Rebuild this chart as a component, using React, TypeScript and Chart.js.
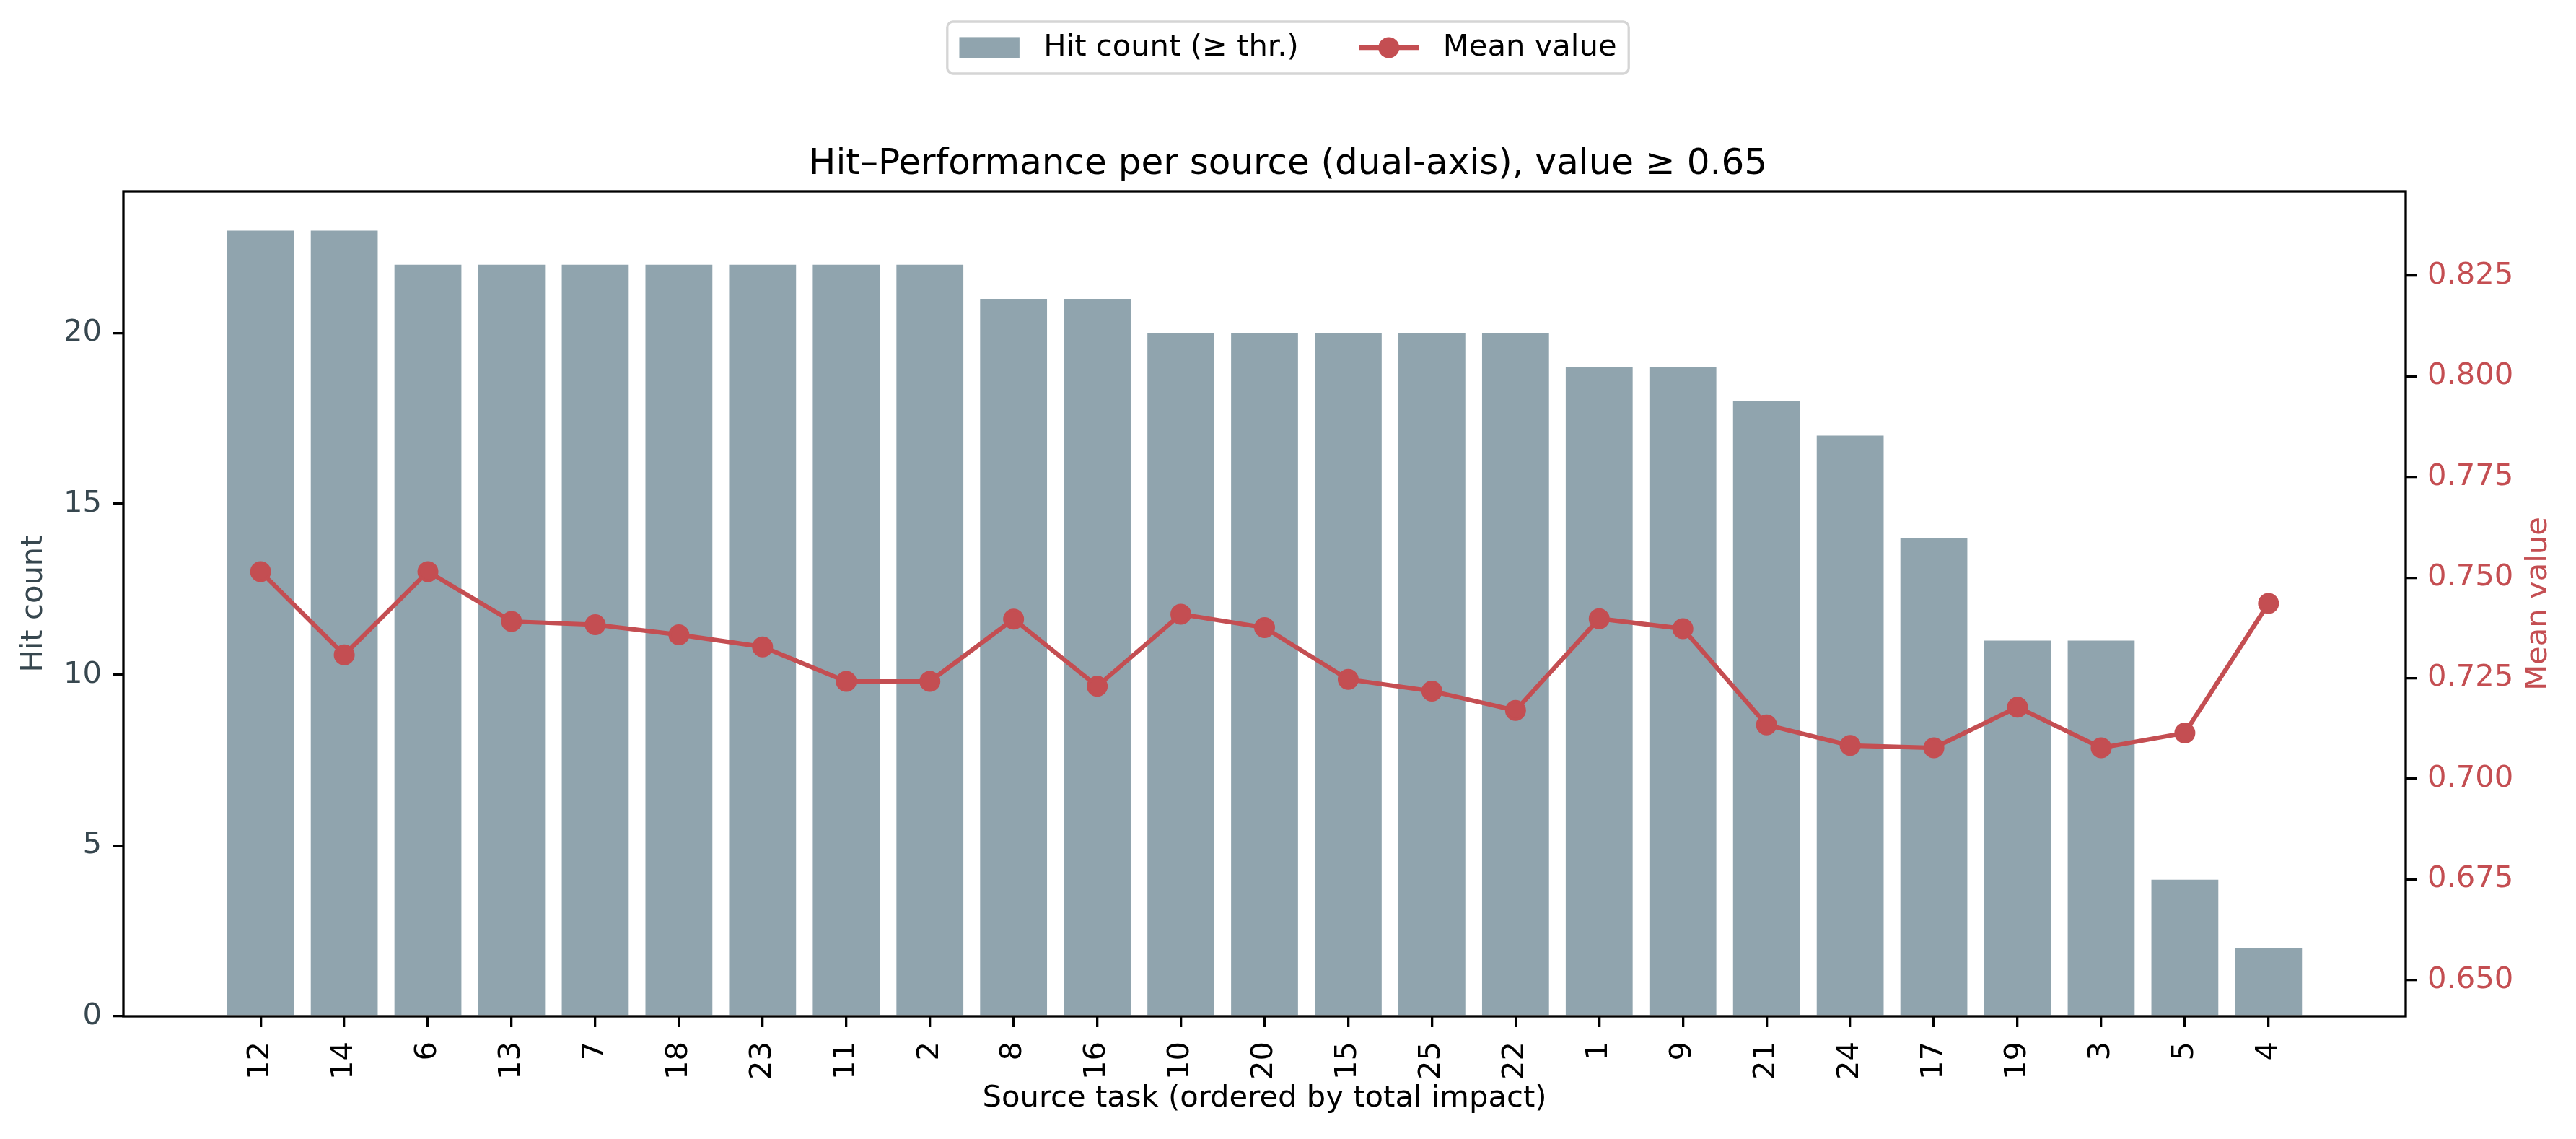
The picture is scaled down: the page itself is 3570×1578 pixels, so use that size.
import { useEffect, useRef } from 'react';
import { Chart, registerables } from 'chart.js';

Chart.register(...registerables);

const categories = ['12', '14', '6', '13', '7', '18', '23', '11', '2', '8', '16', '10', '20', '15', '25', '22', '1', '9', '21', '24', '17', '19', '3', '5', '4'];
const hitCounts = [23, 23, 22, 22, 22, 22, 22, 22, 22, 21, 21, 20, 20, 20, 20, 20, 19, 19, 18, 17, 14, 11, 11, 4, 2];
const meanValues = [0.7515, 0.7308, 0.7515, 0.7391, 0.7383, 0.7358, 0.7328, 0.7242, 0.7242, 0.7397, 0.7230, 0.7409, 0.7376, 0.7247, 0.7218, 0.7170, 0.7398, 0.7373, 0.7134, 0.7083, 0.7077, 0.7178, 0.7077, 0.7114, 0.7436];
const hitTicks = [0, 5, 10, 15, 20];
const meanTicks = [0.65, 0.675, 0.7, 0.725, 0.75, 0.775, 0.8, 0.825];

const TITLE = 'Hit\u2013Performance per source (dual-axis), value \u2265 0.65';
const BAR_LABEL = 'Hit count (\u2265 thr.)';
const LINE_LABEL = 'Mean value';

export default function App() {
  const ref = useRef<HTMLCanvasElement>(null);

  useEffect(() => {
    document.body.style.margin = '0';
    document.body.style.overflow = 'hidden';
    const canvas = ref.current;
    if (!canvas) return;

    const FAMILY = "'DejaVu Sans', sans-serif";
    const FS = 41.7;
    const BAR = '#90A4AE';
    const RED = '#C44E52';
    const SLATE = '#37474F';
    const LW = 3.3;

    const decor = {
      id: 'decor',
      afterDatasetsDraw(chart: any) {
        const { ctx, chartArea: a } = chart;
        ctx.save();
        ctx.strokeStyle = '#000';
        ctx.lineWidth = LW;
        ctx.strokeRect(a.left, a.top, a.right - a.left, a.bottom - a.top);
        ctx.restore();
      },
      afterDraw(chart: any) {
        const { ctx, chartArea: a } = chart;
        ctx.save();
        // right axis title (reads bottom-to-top like matplotlib)
        ctx.font = `${FS}px ${FAMILY}`;
        ctx.fillStyle = RED;
        ctx.textAlign = 'center';
        ctx.textBaseline = 'middle';
        ctx.translate(3518, (a.top + a.bottom) / 2);
        ctx.rotate(-Math.PI / 2);
        ctx.fillText(LINE_LABEL, 0, 0);
        ctx.restore();

        // legend
        ctx.save();
        ctx.font = `${FS}px ${FAMILY}`;
        const w1 = ctx.measureText(BAR_LABEL).width;
        const w2 = ctx.measureText(LINE_LABEL).width;
        const handle = 2 * FS;
        const hpad = 0.8 * FS;
        const colsp = 2 * FS;
        const bpad = 0.4 * FS;
        const total = bpad * 2 + handle + hpad + w1 + colsp + handle + hpad + w2;
        const x0 = chart.width / 2 - total / 2;
        const top = 30;
        const h = 72;
        const cy = top + h / 2;
        ctx.beginPath();
        (ctx as any).roundRect(x0, top, total, h, 8);
        ctx.fillStyle = 'rgba(255,255,255,0.8)';
        ctx.fill();
        ctx.strokeStyle = '#d5d5d5';
        ctx.lineWidth = LW;
        ctx.stroke();

        let x = x0 + bpad;
        ctx.fillStyle = BAR;
        ctx.fillRect(x, cy - 0.35 * FS, handle, 0.7 * FS);
        x += handle + hpad;
        ctx.fillStyle = '#000';
        ctx.textAlign = 'left';
        ctx.textBaseline = 'middle';
        ctx.fillText(BAR_LABEL, x, cy);
        x += w1 + colsp;
        ctx.strokeStyle = RED;
        ctx.lineWidth = 6.25;
        ctx.beginPath();
        ctx.moveTo(x, cy);
        ctx.lineTo(x + handle, cy);
        ctx.stroke();
        ctx.beginPath();
        ctx.arc(x + handle / 2, cy, 14.5, 0, Math.PI * 2);
        ctx.fillStyle = RED;
        ctx.fill();
        x += handle + hpad;
        ctx.fillStyle = '#000';
        ctx.fillText(LINE_LABEL, x, cy);
        ctx.restore();
      },
    };

    const font = { family: FAMILY, size: FS };

    const chart = new Chart(canvas, {
      type: 'bar',
      data: {
        datasets: [
          {
            type: 'line',
            label: LINE_LABEL,
            data: meanValues.map((v, i) => ({ x: i, y: v })),
            yAxisID: 'y1',
            xAxisID: 'x',
            borderColor: RED,
            backgroundColor: RED,
            borderWidth: 6.25,
            pointRadius: 12.5,
            pointBorderWidth: 4,
            pointBackgroundColor: RED,
            pointBorderColor: RED,
            tension: 0,
            order: 0,
          } as any,
          {
            type: 'bar',
            label: BAR_LABEL,
            data: hitCounts.map((v, i) => ({ x: i, y: v })),
            yAxisID: 'y',
            xAxisID: 'x',
            backgroundColor: BAR,
            borderWidth: 0,
            barPercentage: 0.8,
            categoryPercentage: 1.0,
            order: 1,
          } as any,
        ],
      },
      options: {
        responsive: false,
        animation: false,
        devicePixelRatio: 1,
        layout: { padding: 0 },
        plugins: {
          legend: { display: false },
          tooltip: { enabled: false },
          title: {
            display: true,
            text: TITLE,
            color: '#000',
            font: { family: FAMILY, size: 50, weight: 'normal' },
            padding: { top: 198, bottom: 7 },
          },
        },
        scales: {
          x: {
            type: 'linear',
            min: -1.64,
            max: 25.64,
            offset: false,
            grid: {
              display: true,
              drawOnChartArea: false,
              drawTicks: true,
              tickLength: 15,
              color: '#000',
              lineWidth: LW,
              offset: false,
            },
            border: { display: false },
            ticks: {
              autoSkip: false,
              minRotation: 90,
              maxRotation: 90,
              padding: 20,
              color: '#000',
              font,
              callback: (v: any) => categories[Number(v)] ?? '',
            },
            afterBuildTicks: (s: any) => {
              s.ticks = categories.map((_, i) => ({ value: i }));
            },
            afterFit: (s: any) => {
              s.height = 170;
            },
            title: {
              display: true,
              text: 'Source task (ordered by total impact)',
              color: '#000',
              font,
              padding: { top: 0, bottom: 31 },
            },
          } as any,
          y: {
            type: 'linear',
            position: 'left',
            min: 0,
            max: 24.15,
            grid: {
              display: true,
              drawOnChartArea: false,
              drawTicks: true,
              tickLength: 15,
              color: '#000',
              lineWidth: LW,
            },
            border: { display: false },
            ticks: { padding: 15, color: SLATE, font },
            afterBuildTicks: (s: any) => {
              s.ticks = hitTicks.map((v) => ({ value: v }));
            },
            afterFit: (s: any) => {
              s.width = 171;
            },
            title: {
              display: true,
              text: 'Hit count',
              color: SLATE,
              font,
              padding: { top: 22, bottom: 0 },
            },
          } as any,
          y1: {
            type: 'linear',
            position: 'right',
            min: 0.641,
            max: 0.846,
            grid: {
              display: true,
              drawOnChartArea: false,
              drawTicks: true,
              tickLength: 15,
              color: '#000',
              lineWidth: LW,
            },
            border: { display: false },
            ticks: {
              padding: 15,
              color: RED,
              font,
              callback: (v: any) => Number(v).toFixed(3),
            },
            afterBuildTicks: (s: any) => {
              s.ticks = meanTicks.map((v) => ({ value: v }));
            },
            afterFit: (s: any) => {
              s.width = 236;
            },
          } as any,
        },
      },
      plugins: [decor],
    });

    return () => chart.destroy();
  }, []);

  return (
    <div style={{ width: 3570, height: 1578 }}>
      <canvas ref={ref} width={3570} height={1578} style={{ display: 'block', width: 3570, height: 1578 }} />
    </div>
  );
}
